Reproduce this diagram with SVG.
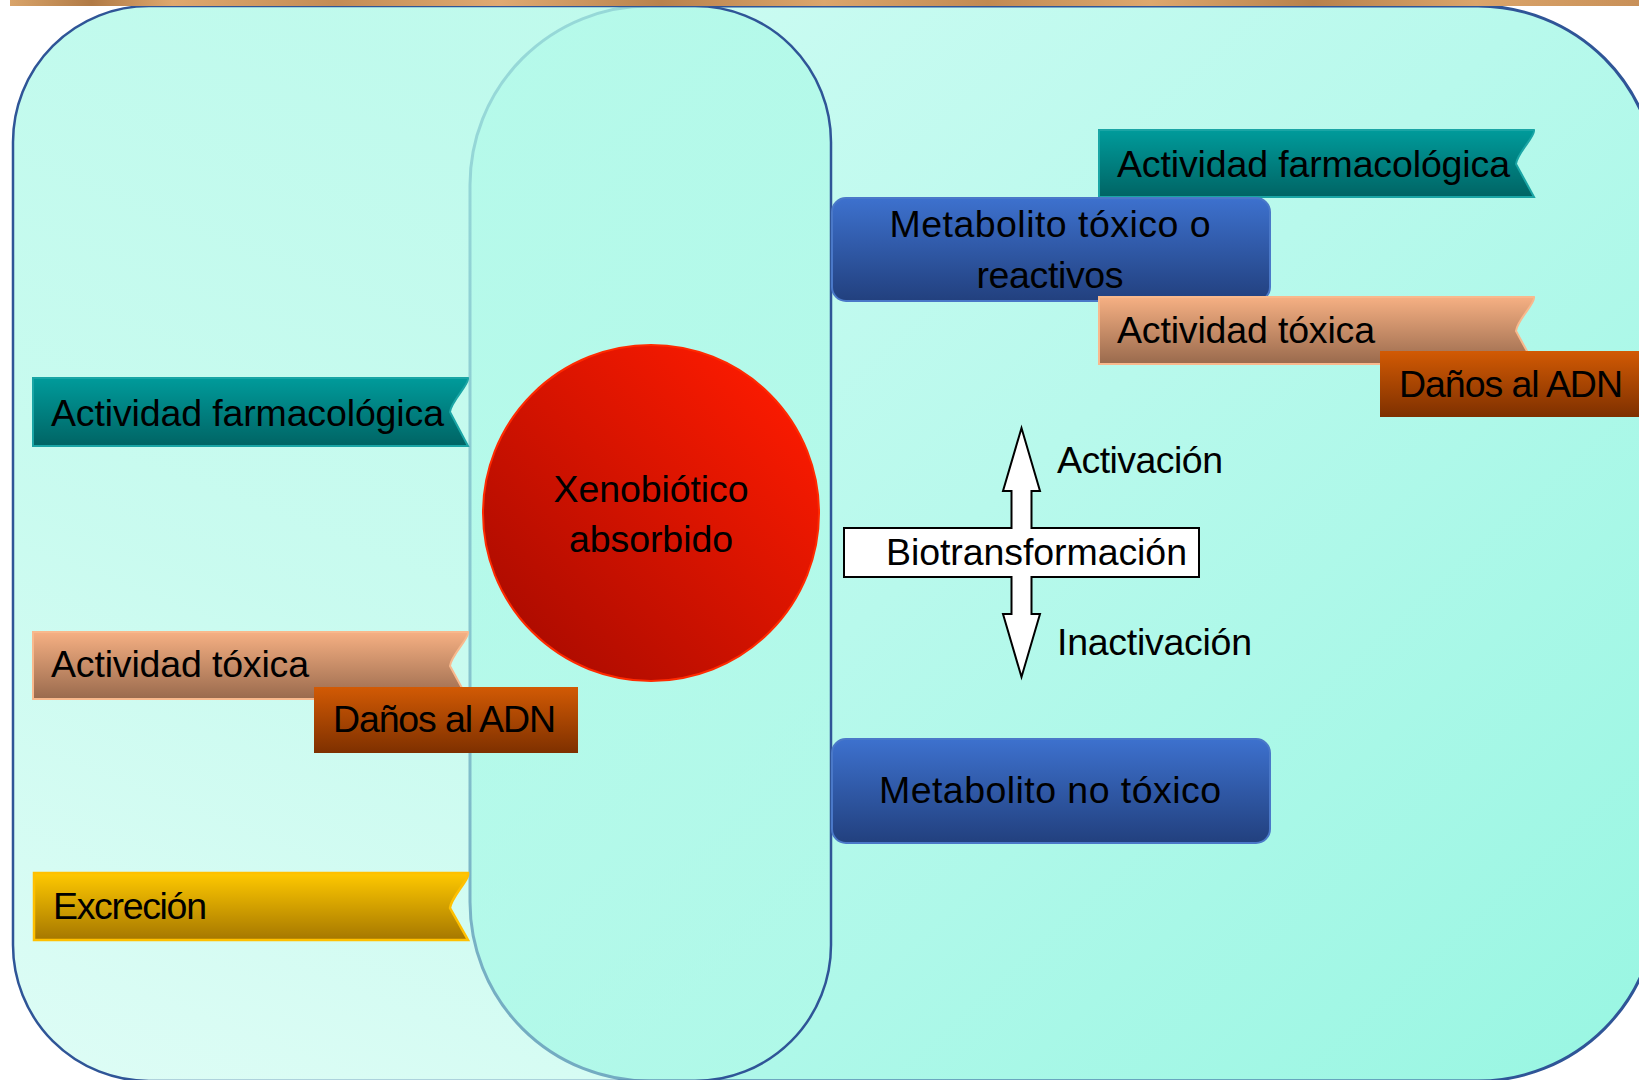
<svg xmlns="http://www.w3.org/2000/svg" width="1639" height="1080" viewBox="0 0 1639 1080">
  <defs>
    <linearGradient id="gRight" x1="0" y1="0" x2="1" y2="1">
      <stop offset="0" stop-color="#cffcf3"/>
      <stop offset="0.45" stop-color="#b8f9ec"/>
      <stop offset="1" stop-color="#98f6e2"/>
    </linearGradient>
    <linearGradient id="gLeft" x1="0.3" y1="0" x2="0" y2="1">
      <stop offset="0" stop-color="#b0f9e8" stop-opacity="0.8"/>
      <stop offset="0.5" stop-color="#b0f9e8" stop-opacity="0.68"/>
      <stop offset="1" stop-color="#b0f9e8" stop-opacity="0.42"/>
    </linearGradient>
    <linearGradient id="gTeal" x1="0" y1="0" x2="0" y2="1">
      <stop offset="0" stop-color="#009b9b"/>
      <stop offset="1" stop-color="#006464"/>
    </linearGradient>
    <linearGradient id="gPeach" x1="0" y1="0" x2="0" y2="1">
      <stop offset="0" stop-color="#f6b083"/>
      <stop offset="1" stop-color="#996a4d"/>
    </linearGradient>
    <linearGradient id="gOrange" x1="0" y1="0" x2="0" y2="1">
      <stop offset="0" stop-color="#d25a04"/>
      <stop offset="1" stop-color="#7e3000"/>
    </linearGradient>
    <linearGradient id="gYellow" x1="0" y1="0" x2="0" y2="1">
      <stop offset="0" stop-color="#ffc900"/>
      <stop offset="1" stop-color="#a57700"/>
    </linearGradient>
    <linearGradient id="gBlue" x1="0" y1="0" x2="0" y2="1">
      <stop offset="0" stop-color="#3d71ce"/>
      <stop offset="1" stop-color="#22407e"/>
    </linearGradient>
    <linearGradient id="gRed" x1="0.15" y1="0.85" x2="0.85" y2="0.15">
      <stop offset="0" stop-color="#b00c00"/>
      <stop offset="1" stop-color="#f81a00"/>
    </linearGradient>
    <linearGradient id="gWood" x1="0" y1="0" x2="1" y2="0">
      <stop offset="0" stop-color="#d9a46a"/>
      <stop offset="0.05" stop-color="#b07a45"/>
      <stop offset="0.1" stop-color="#dfa86e"/>
      <stop offset="0.2" stop-color="#c48c55"/>
      <stop offset="0.3" stop-color="#e0aa72"/>
      <stop offset="0.4" stop-color="#b9824c"/>
      <stop offset="0.5" stop-color="#dca66c"/>
      <stop offset="0.6" stop-color="#c28a52"/>
      <stop offset="0.7" stop-color="#dea86e"/>
      <stop offset="0.8" stop-color="#b8814b"/>
      <stop offset="0.9" stop-color="#dba56b"/>
      <stop offset="1" stop-color="#c89058"/>
    </linearGradient>
    <style>
      text { font-family: "Liberation Sans", Arial, sans-serif; font-size: 37.5px; fill: #000; }
      .mid { text-anchor: middle; }
      .teal { fill: url(#gTeal); stroke: #1aa5a5; stroke-width: 2; }
      .peach { fill: url(#gPeach); stroke: #f8b98d; stroke-width: 2; }
      .orange { fill: url(#gOrange); }
      .yellow { fill: url(#gYellow); stroke: #ffc000; stroke-width: 2.5; }
      .blue { fill: url(#gBlue); stroke: #4a78c8; stroke-width: 2; }
    </style>
  </defs>

  <rect x="0" y="0" width="1639" height="1080" fill="#ffffff"/>

  <g id="region-right">
    <rect x="470" y="6" width="1187" height="1075" rx="179" ry="179" fill="url(#gRight)" stroke="#2f5597" stroke-width="3"/>
  </g>
  <g id="region-left">
    <rect x="13" y="6" width="818" height="1075" rx="136" ry="136" fill="url(#gLeft)" stroke="#2f5597" stroke-width="2.5"/>
  </g>

  <rect id="wood-strip" x="10" y="0" width="1629" height="6" fill="url(#gWood)"/>

  <g id="connectors"></g>

  <g id="xenobiotico">
    <circle cx="651" cy="513" r="168" fill="url(#gRed)" stroke="#ff2a00" stroke-width="2"/>
    <text class="mid" x="651" y="502" textLength="195">Xenobiótico</text>
    <text class="mid" x="651" y="552" textLength="164">absorbido</text>
  </g>

  <g id="left-farmacologica">
    <path class="teal" d="M33,378 H468 C470,384 451,401 450,412 L468,446 H33 Z"/>
    <text x="51" y="426" textLength="393">Actividad farmacológica</text>
  </g>
  <g id="left-toxica">
    <path class="peach" d="M33,632 H468 C470,638 451,655 450,666 L468,699 H33 Z"/>
    <text x="51" y="677" textLength="258">Actividad tóxica</text>
  </g>
  <g id="left-adn">
    <rect class="orange" x="314" y="687" width="264" height="66"/>
    <text x="333" y="732" textLength="223">Daños al ADN</text>
  </g>
  <g id="left-excrecion">
    <path class="yellow" d="M34,873 H468 C470,879 451,897 450,908 L468,940 H34 Z"/>
    <text x="53" y="919" textLength="154">Excreción</text>
  </g>

  <g id="right-farmacologica">
    <path class="teal" d="M1099,130 H1534 C1536,136 1517,153 1516,164 L1534,197 H1099 Z"/>
    <text x="1117" y="177" textLength="393">Actividad farmacológica</text>
  </g>
  <g id="metabolito-toxico">
    <rect class="blue" x="832" y="198" width="438" height="103" rx="14" ry="14"/>
    <text class="mid" x="1050" y="237" textLength="321">Metabolito tóxico o</text>
    <text class="mid" x="1050" y="288" textLength="147">reactivos</text>
  </g>
  <g id="right-toxica">
    <path class="peach" d="M1099,297 H1534 C1536,303 1517,320 1516,331 L1534,364 H1099 Z"/>
    <text x="1117" y="343" textLength="258">Actividad tóxica</text>
  </g>
  <g id="right-adn">
    <rect class="orange" x="1380" y="351" width="270" height="66"/>
    <text x="1399" y="397" textLength="224">Daños al ADN</text>
  </g>

  <g id="biotransformacion">
    <path d="M844,528 H1011.5 V491 H1003 L1021.5,428 L1040,491 H1031.5 V528 H1199 V577 H1031.5 V614 H1040 L1021.5,677 L1003,614 H1011.5 V577 H844 Z" fill="#ffffff" stroke="#000000" stroke-width="2"/>
    <text x="886" y="565" textLength="301">Biotransformación</text>
    <text x="1057" y="473" textLength="166">Activación</text>
    <text x="1057" y="655" textLength="195">Inactivación</text>
  </g>

  <g id="metabolito-no-toxico">
    <rect class="blue" x="832" y="739" width="438" height="104" rx="14" ry="14"/>
    <text class="mid" x="1050" y="803" textLength="342">Metabolito no tóxico</text>
  </g>
</svg>
